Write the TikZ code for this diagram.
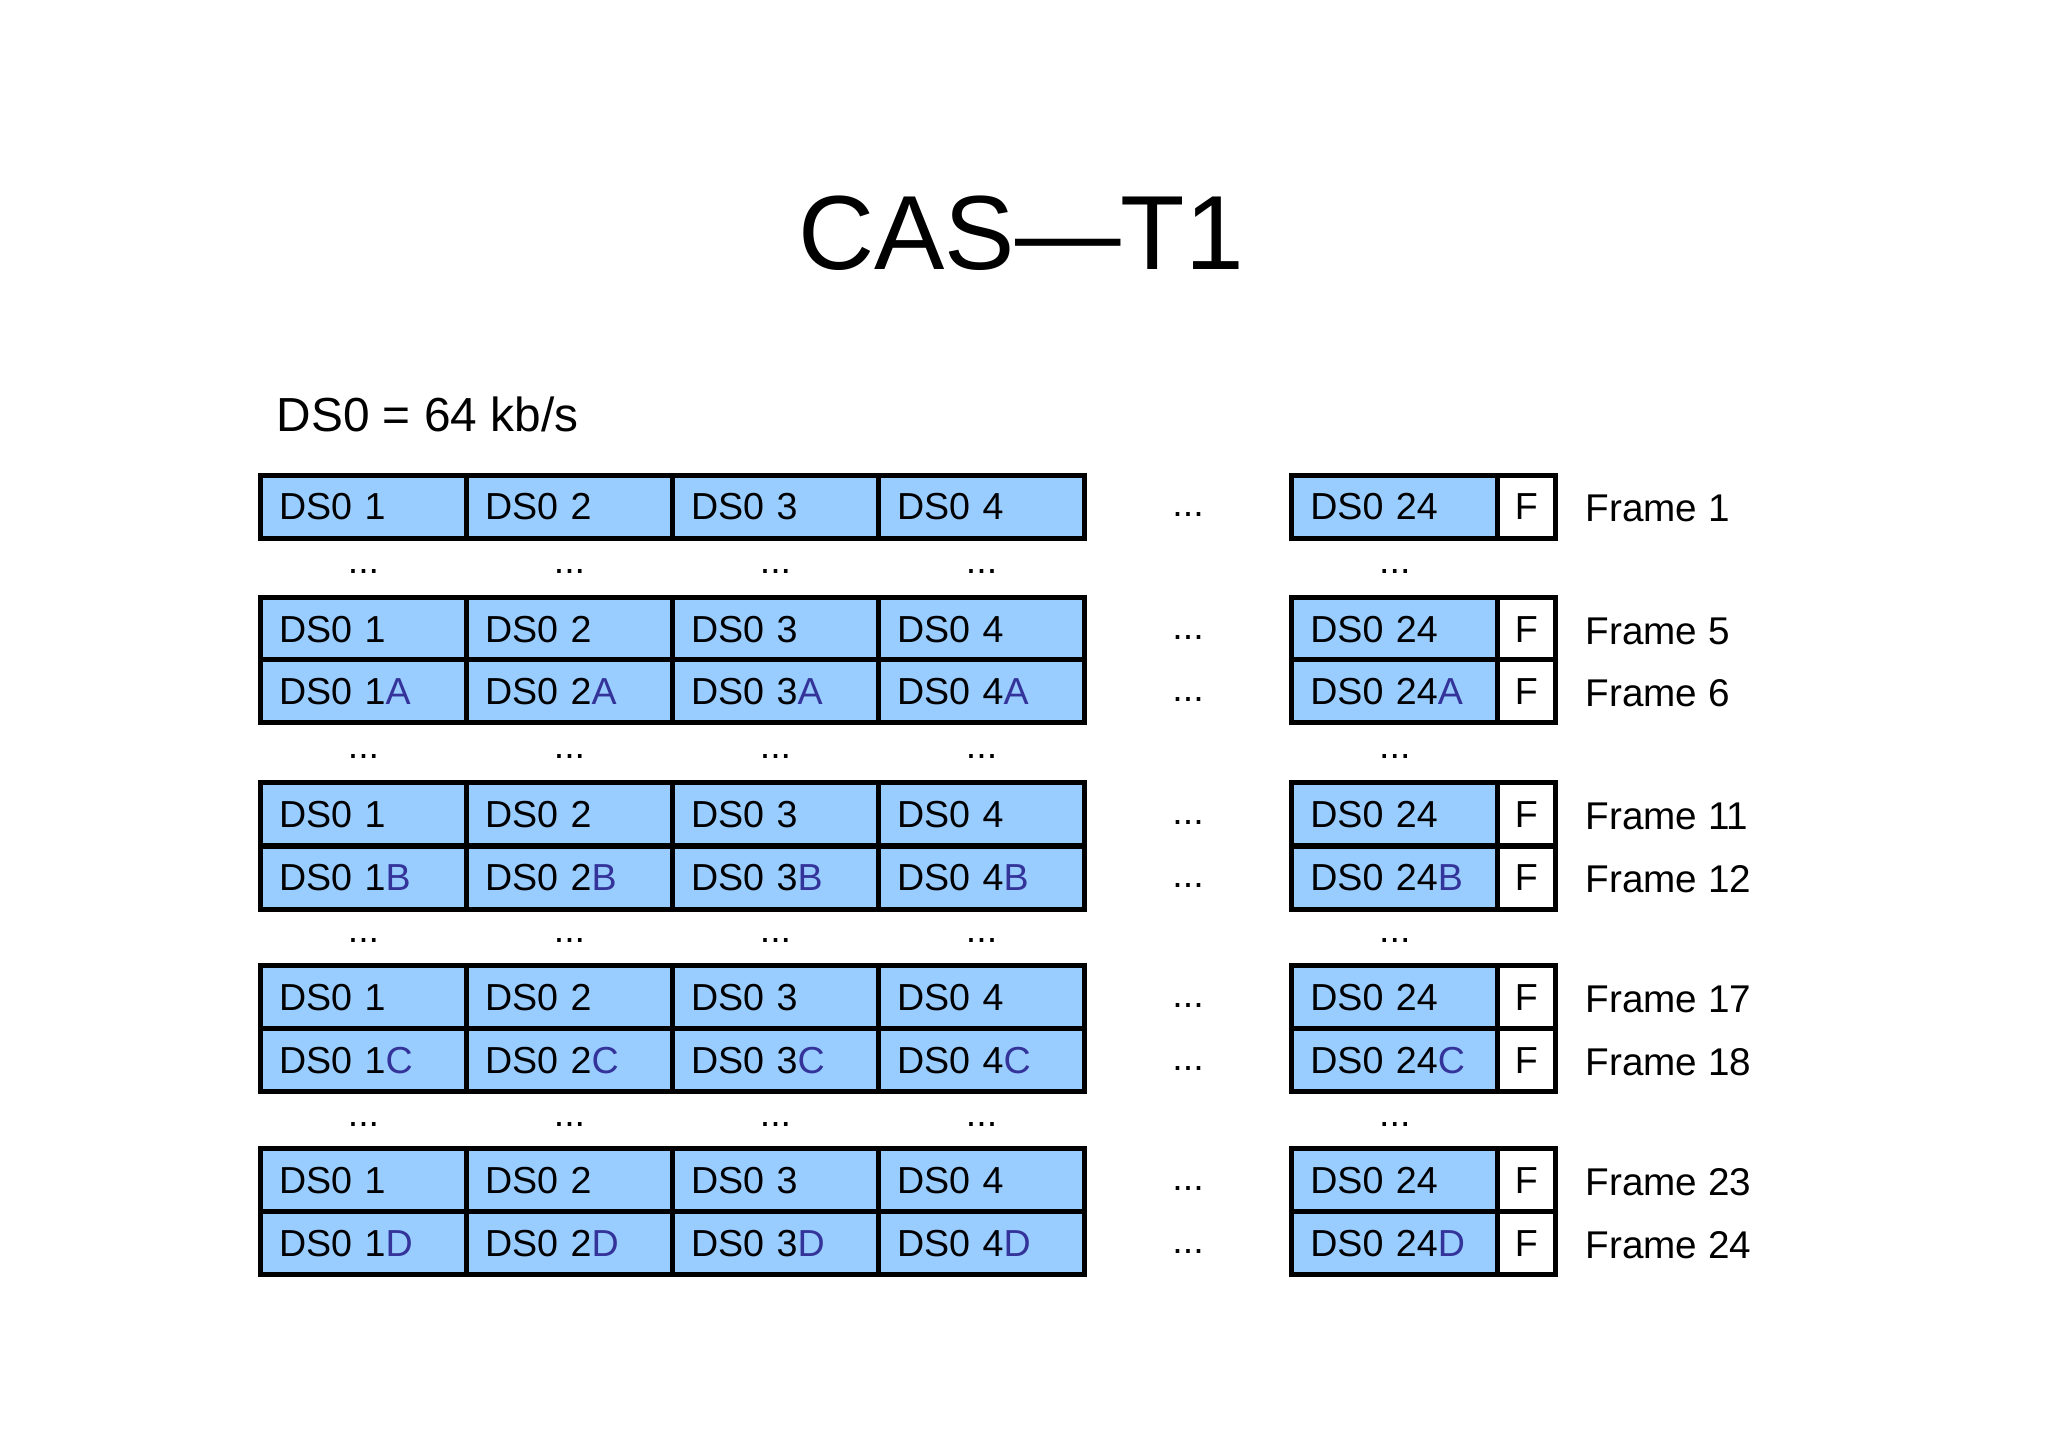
\documentclass[tikz,border=0pt]{standalone}
\usepackage{fontspec}
\setmainfont{Liberation Sans}

\definecolor{slotblue}{HTML}{99CCFF}
\definecolor{sigblue}{HTML}{333399}
\newcommand{\cellfont}{\fontsize{10.7}{12}\selectfont}
\newcommand{\sigbit}[1]{\textcolor{sigblue}{#1}}

\tikzset{
  slot/.style={draw=black, line width=0.5mm, fill=slotblue, inner xsep=1.85mm, inner ysep=0pt,
    text width=16.9mm, align=left, minimum height=6.3mm, text height=2.69mm, text depth=0pt, font=\cellfont},
  fbit/.style={draw=black, line width=0.5mm, fill=white, inner sep=0pt,
    minimum width=5.85mm, minimum height=6.3mm, text height=2.69mm, text depth=0pt, font=\cellfont},
  skipdots/.style={inner sep=0pt, text height=2.69mm, text depth=0pt, font=\cellfont},
  framelbl/.style={anchor=west, inner sep=0pt, text height=2.69mm, text depth=0pt,
    font=\fontsize{11}{13}\selectfont}
}

\begin{document}
\begin{tikzpicture}[x=0.1mm, y=-0.1mm]
\useasboundingbox (0,0) rectangle (2048,1447);

\node[anchor=base, inner sep=0pt, font=\fontsize{30}{36}\selectfont] (title) at (1021,269) {CAS—T1};
\node[anchor=base west, inner sep=0pt, font=\fontsize{13.6}{16}\selectfont] (rate) at (276,431) {DS0 = 64 kb/s};

% frames: number / row centre / signalling bit
\foreach \f/\y/\s in {1/506.5/{}, 5/628.75/{}, 6/691.25/A, 11/814/{}, 12/877.5/B,
                      17/997/{}, 18/1060/C, 23/1180/{}, 24/1243/D} {
  \foreach \c/\x in {1/363.5, 2/569.5, 3/775.5, 4/981.5}
    \node[slot] (f\f c\c) at (\x,\y) {DS0 \c\sigbit{\s}};
  \node[skipdots] (f\f mid) at (1188,\y-3) {...};
  \node[slot] (f\f c24) at (1394.75,\y) {DS0 24\sigbit{\s}};
  \node[fbit] (f\f fb) at (1526.25,\y) {F};
  \node[framelbl] (f\f lbl) at (1585,\y+2) {Frame \f};
}

% skipped frames between the blocks
\foreach \y [count=\i] in {571, 756, 940, 1124}
  \foreach \c/\x in {1/363.5, 2/569.5, 3/775.5, 4/981.5, 24/1394.75}
    \node[inner sep=0pt, font=\cellfont] (gap\i c\c) at (\x,\y) {...};
\end{tikzpicture}
\end{document}
